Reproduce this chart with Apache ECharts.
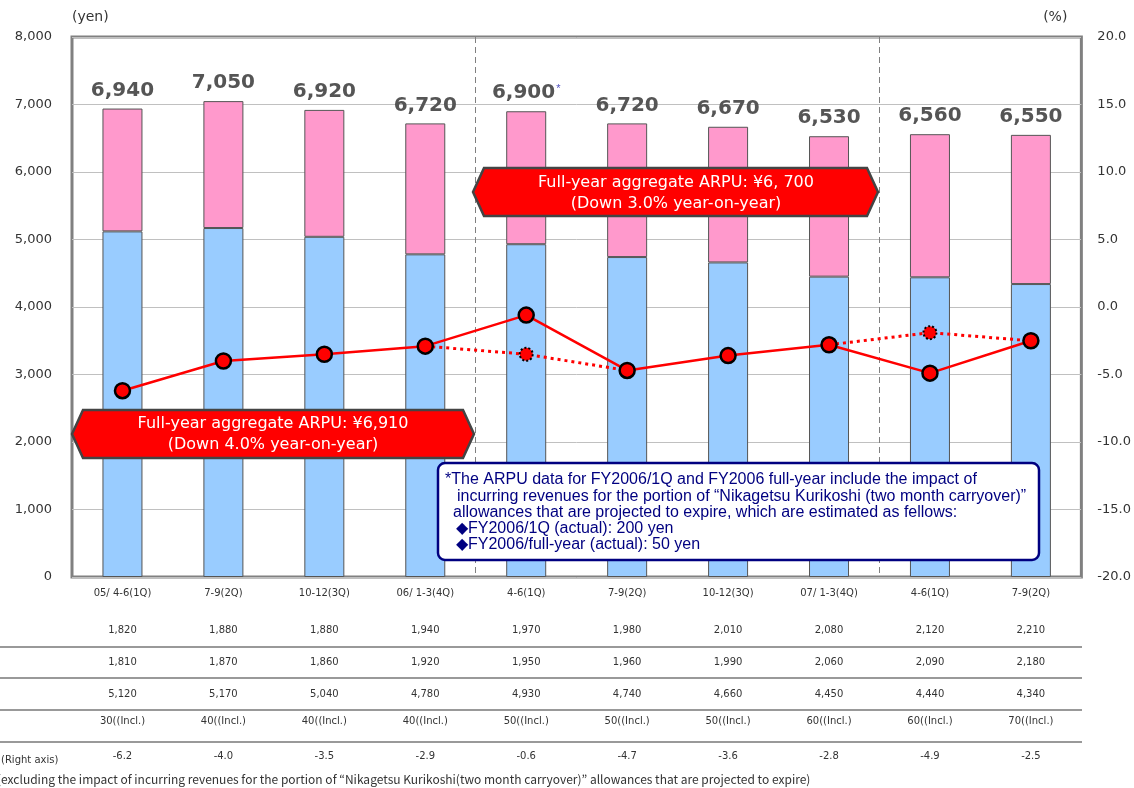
<!DOCTYPE html>
<html>
<head>
<meta charset="utf-8">
<script src="https://cdn.jsdelivr.net/npm/echarts@6/dist/echarts.min.js"></script>
<style>
  html, body { margin: 0; padding: 0; background: #fff; }
  #chart { width: 1134px; height: 788px; }
</style>
</head>
<body>
<div id="chart"></div>
<script>
// quarters
const categories = ["05/ 4-6(1Q)", "7-9(2Q)", "10-12(3Q)", "06/ 1-3(4Q)", "4-6(1Q)",
  "7-9(2Q)", "10-12(3Q)", "07/ 1-3(4Q)", "4-6(1Q)", "7-9(2Q)"];

// stacked bar parts (yen)
const blueValues = [5120, 5170, 5040, 4780, 4930, 4740, 4660, 4450, 4440, 4340];
const pinkValues = [1820, 1880, 1880, 1940, 1970, 1980, 2010, 2080, 2120, 2210];
const totals = [6940, 7050, 6920, 6720, 6900, 6720, 6670, 6530, 6560, 6550];

// table rows under the chart
const row2Values = [1810, 1870, 1860, 1920, 1950, 1960, 1990, 2060, 2090, 2180];
const inclValues = [30, 40, 40, 40, 50, 50, 50, 60, 60, 70];

// year-on-year change (%), right axis
const yoyValues = [-6.2, -4.0, -3.5, -2.9, -0.6, -4.7, -3.6, -2.8, -4.9, -2.5];
// excluding carryover impact (dotted)
const yoyExcl = [null, null, null, -2.9, -3.5, -4.7, null, -2.8, -1.9, -2.5];
const exclMarked = [4, 8];

const leftTicks = [0, 8000, 1000];
const rightTicks = [-20, 20, 5];

const fmt = v => v.toLocaleString("en-US");

const chart = echarts.init(document.getElementById("chart"));

const tableRows = [
  { offset: 40, labels: pinkValues.map(fmt) },
  { offset: 72, labels: row2Values.map(fmt) },
  { offset: 104, labels: blueValues.map(fmt) },
  { offset: 131, labels: inclValues.map(v => v + "((Incl.)") },
  { offset: 166, labels: yoyValues.map(v => v.toFixed(1)) },
];

const xAxes = [
  {
    type: "category",
    data: categories,
    position: "bottom",
    axisLine: { show: false },
    axisTick: { show: false },
    axisLabel: { color: "#333", fontSize: 10, margin: 11, fontFamily: "DejaVu Sans" },
    splitLine: {
      show: true,
      interval: (i) => i === 4 || i === 8,
      lineStyle: { color: "#808080", type: [6, 4], width: 1 },
    },
  },
].concat(tableRows.map(r => ({
  type: "category",
  data: categories,
  position: "bottom",
  offset: r.offset,
  axisLine: { show: false },
  axisTick: { show: false },
  splitLine: { show: false },
  axisLabel: {
    color: "#333", fontSize: 10, margin: 8, fontFamily: "DejaVu Sans",
    formatter: (v, i) => r.labels[i],
  },
})));

const sepLines = [647, 678, 710, 742].map(y => ({
  type: "line",
  shape: { x1: 0, y1: y, x2: 1082, y2: y },
  style: { stroke: "#999", lineWidth: 2 },
}));

const calloutShape = (x1, x2, yTop, yBot) => {
  const mid = (yTop + yBot) / 2;
  return [[x1, mid], [x1 + 11, yTop], [x2 - 11, yTop], [x2, mid], [x2 - 11, yBot], [x1 + 11, yBot]];
};

const calloutText = (cx, y, text) => ({
  type: "text", z: 101, x: cx, y: y,
  style: {
    text: text, fill: "#fff", fontSize: 16, fontFamily: "DejaVu Sans",
    textAlign: "center", textVerticalAlign: "middle",
  },
});

const noteText = (x, y, text) => ({
  type: "text", z: 101, x: x, y: y,
  style: {
    text: text, fill: "#000080", fontSize: 16, fontFamily: "Liberation Sans",
    textVerticalAlign: "middle",
  },
});

chart.setOption({
  animation: false,
  backgroundColor: "#fff",
  grid: {
    left: 72, right: 52, top: 37, bottom: 211,
    show: true, borderColor: "#808080", borderWidth: 3,
  },
  xAxis: xAxes,
  yAxis: [
    {
      type: "value",
      min: leftTicks[0], max: leftTicks[1], interval: leftTicks[2],
      name: "(yen)",
      nameLocation: "end",
      nameGap: 13,
      nameTextStyle: { color: "#333", fontSize: 14, fontFamily: "DejaVu Sans", align: "left" },
      axisLine: { show: false },
      axisTick: { show: false },
      axisLabel: { color: "#333", fontSize: 13, margin: 20, fontFamily: "DejaVu Sans", formatter: v => fmt(v) },
      splitLine: { lineStyle: { color: "#c0c0c0", width: 1 } },
    },
    {
      type: "value",
      min: rightTicks[0], max: rightTicks[1], interval: rightTicks[2],
      name: "(%)",
      nameLocation: "end",
      nameGap: 13,
      nameTextStyle: { color: "#333", fontSize: 14, fontFamily: "DejaVu Sans", align: "right", padding: [0, 14, 0, 0] },
      axisLine: { show: false },
      axisTick: { show: false },
      axisLabel: { color: "#333", fontSize: 13, margin: 16, fontFamily: "DejaVu Sans", formatter: v => v.toFixed(1) },
      splitLine: { show: false },
    },
  ],
  series: [
    {
      type: "bar",
      stack: "arpu",
      data: blueValues,
      barWidth: 40,
      itemStyle: { color: "#99CCFF", borderColor: "#555", borderWidth: 1 },
      z: 2,
    },
    {
      type: "bar",
      stack: "arpu",
      data: pinkValues,
      barWidth: 40,
      itemStyle: { color: "#FF99CC", borderColor: "#555", borderWidth: 1 },
      label: {
        show: true,
        position: "top",
        distance: 8,
        formatter: p => p.dataIndex === 4 ? "{v|" + fmt(totals[p.dataIndex]) + "}{s|*}" : "{v|" + fmt(totals[p.dataIndex]) + "}",
        rich: {
          v: { color: "#555", fontSize: 20, fontWeight: "bold", fontFamily: "DejaVu Sans" },
          s: { color: "#5050c0", fontSize: 11, verticalAlign: "top", padding: [0, 0, 8, 1] },
        },
      },
      z: 2,
    },
    {
      type: "line",
      yAxisIndex: 1,
      data: yoyExcl.map((v, i) => exclMarked.includes(i)
        ? { value: v, symbol: "circle", symbolSize: 13 }
        : { value: v, symbol: "none" }),
      connectNulls: false,
      lineStyle: { color: "#FF0000", width: 3, type: [3, 4] },
      itemStyle: { color: "#FF0000", borderColor: "#000", borderWidth: 2, borderType: [2, 2] },
      z: 4,
    },
    {
      type: "line",
      yAxisIndex: 1,
      data: yoyValues,
      symbol: "circle",
      symbolSize: 15,
      lineStyle: { color: "#FF0000", width: 2.5 },
      itemStyle: { color: "#FF0000", borderColor: "#000", borderWidth: 2.5 },
      z: 5,
    },
  ],
  graphic: sepLines.concat([
    {
      type: "text", x: 1, y: 760,
      style: { text: "(Right axis)", fill: "#333", fontSize: 10, fontFamily: "DejaVu Sans", textVerticalAlign: "middle" },
    },
    {
      type: "text", x: -3, y: 779,
      style: {
        text: "(excluding the impact of incurring revenues for the portion of \u201cNikagetsu Kurikoshi(two month carryover)\u201d allowances that are projected to expire)",
        fill: "#333", fontSize: 12, fontFamily: "Noto Sans CJK JP", textVerticalAlign: "middle",
      },
    },
    // callout 1
    {
      type: "polygon", z: 100,
      shape: { points: calloutShape(72, 474, 410, 458) },
      style: { fill: "#FF0000", stroke: "#444", lineWidth: 2.5 },
    },
    calloutText(273, 424, "Full-year aggregate ARPU: \u00a56,910"),
    calloutText(273, 445, "(Down 4.0% year-on-year)"),
    // callout 2
    {
      type: "polygon", z: 100,
      shape: { points: calloutShape(473, 878, 168, 216) },
      style: { fill: "#FF0000", stroke: "#444", lineWidth: 2.5 },
    },
    calloutText(676, 183, "Full-year aggregate ARPU: \u00a56, 700"),
    calloutText(676, 204, "(Down 3.0% year-on-year)"),
    // note box
    {
      type: "rect", z: 100,
      shape: { x: 438, y: 463, width: 601, height: 97, r: 7 },
      style: { fill: "#fff", stroke: "#000080", lineWidth: 2.5 },
    },
    noteText(445, 480, "*The ARPU data for FY2006/1Q and FY2006 full-year include the impact of"),
    noteText(457, 497, "incurring revenues for the portion of \u201cNikagetsu Kurikoshi (two month carryover)\u201d"),
    noteText(453, 513, "allowances that are projected to expire, which are estimated as fellows:"),
    noteText(456, 529, "\u25c6FY2006/1Q (actual): 200 yen"),
    noteText(456, 545, "\u25c6FY2006/full-year (actual): 50 yen"),
  ]),
});

window.addEventListener("resize", () => chart.resize());
</script>
</body>
</html>
